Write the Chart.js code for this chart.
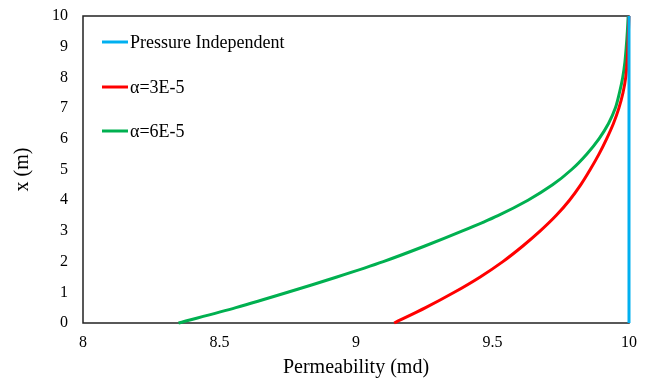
<!DOCTYPE html>
<html>
<head>
<meta charset="UTF-8">
<title>Permeability vs x</title>
<script src="https://cdn.jsdelivr.net/npm/chart.js"></script>
<style>
    html, body { margin: 0; padding: 0; background: #fff; }
    #wrap { width: 651px; height: 380px; }
</style>
</head>
<body>
<div id="wrap"><canvas id="permChart" width="651" height="380"></canvas></div>
<script>
// depth positions (m)
const depthX = [0, 0.5, 1, 1.5, 2, 2.5, 3, 3.5, 4, 4.5, 5, 5.5, 6, 6.5, 7, 7.5, 8, 8.5, 9, 9.5, 10];
// permeability (md) at each depth
const permIndependent = [10, 10, 10, 10, 10, 10, 10, 10, 10, 10, 10, 10, 10, 10, 10, 10, 10, 10, 10, 10, 10];
const permAlpha3 = [9.14, 9.255, 9.36, 9.455, 9.538, 9.61, 9.675, 9.733, 9.782, 9.823, 9.858, 9.89, 9.918, 9.943, 9.963, 9.978, 9.988, 9.993, 9.996, 9.998, 10.0];
const permAlpha6 = [8.35, 8.56, 8.75, 8.93, 9.10, 9.25, 9.39, 9.52, 9.63, 9.72, 9.79, 9.845, 9.89, 9.925, 9.95, 9.965, 9.977, 9.985, 9.99, 9.994, 9.997];
const seriesLabels = ['Pressure Independent', 'α=3E-5', 'α=6E-5'];
const seriesColors = ['#00B0F0', '#FF0000', '#00B050'];
const xTicks = [8, 8.5, 9, 9.5, 10];
const yTicks = [0, 1, 2, 3, 4, 5, 6, 7, 8, 9, 10];

const serif = "'Liberation Serif', 'Times New Roman', serif";

function toPoints(perm) {
    return perm.map((p, i) => ({ x: p, y: depthX[i] }));
}

// frame under the lines, legend drawn inside the plot
const boxAndLegend = {
    id: 'boxAndLegend',
    beforeDatasetsDraw(chart) {
        const { ctx, chartArea: a } = chart;
        ctx.save();
        ctx.strokeStyle = '#222';
        ctx.lineWidth = 1.5;
        ctx.strokeRect(a.left, a.top, a.right - a.left, a.bottom - a.top);
        ctx.restore();
    },
    afterDatasetsDraw(chart) {
        const ctx = chart.ctx;
        ctx.save();
        ctx.font = '18px ' + serif;
        ctx.textBaseline = 'middle';
        ctx.fillStyle = '#000';
        const rows = [42, 87, 131];
        chart.data.datasets.forEach((ds, i) => {
            const y = rows[i];
            ctx.strokeStyle = ds.borderColor;
            ctx.lineWidth = 3;
            ctx.beginPath();
            ctx.moveTo(102, y);
            ctx.lineTo(128, y);
            ctx.stroke();
            ctx.fillText(ds.label, 130, y + 1);
        });
        ctx.restore();
    }
};

// the blue line gets the lowest order so it sits on top
const datasets = [permIndependent, permAlpha3, permAlpha6].map((perm, i) => ({
    label: seriesLabels[i],
    data: toPoints(perm),
    borderColor: seriesColors[i],
    backgroundColor: seriesColors[i],
    borderWidth: 3,
    pointRadius: 0,
    showLine: true,
    tension: 0.3,
    clip: 4,
    order: i === 0 ? 0 : 1
}));

new Chart(document.getElementById('permChart'), {
    type: 'scatter',
    data: { datasets: datasets },
    options: {
        responsive: false,
        animation: false,
        layout: { padding: { top: 16, right: 22, left: 0, bottom: 0 } },
        plugins: {
            legend: { display: false },
            tooltip: { enabled: false }
        },
        scales: {
            x: {
                type: 'linear',
                min: 8,
                max: 10,
                afterBuildTicks: s => { s.ticks = xTicks.map(v => ({ value: v })); },
                afterFit: s => { s.height = 57; s.paddingLeft = 0; s.paddingRight = 0; },
                grid: { display: false, drawTicks: false },
                border: { display: false },
                ticks: {
                    color: '#000',
                    padding: 10,
                    font: { family: serif, size: 16 },
                    callback: v => String(v)
                },
                title: {
                    display: true,
                    text: 'Permeability (md)',
                    color: '#000',
                    font: { family: serif, size: 20 },
                    padding: { top: 2, bottom: 0 }
                }
            },
            y: {
                type: 'linear',
                min: 0,
                max: 10,
                afterBuildTicks: s => { s.ticks = yTicks.map(v => ({ value: v })); },
                afterFit: s => { s.width = 83; s.paddingTop = 0; s.paddingBottom = 0; },
                grid: { display: false, drawTicks: false },
                border: { display: false },
                ticks: {
                    color: '#000',
                    padding: 15,
                    font: { family: serif, size: 16 },
                    callback: v => String(v)
                },
                title: {
                    display: true,
                    text: 'x (m)',
                    color: '#000',
                    font: { family: serif, size: 20 },
                    padding: { top: 11, bottom: 0 }
                }
            }
        }
    },
    plugins: [boxAndLegend]
});
</script>
</body>
</html>
